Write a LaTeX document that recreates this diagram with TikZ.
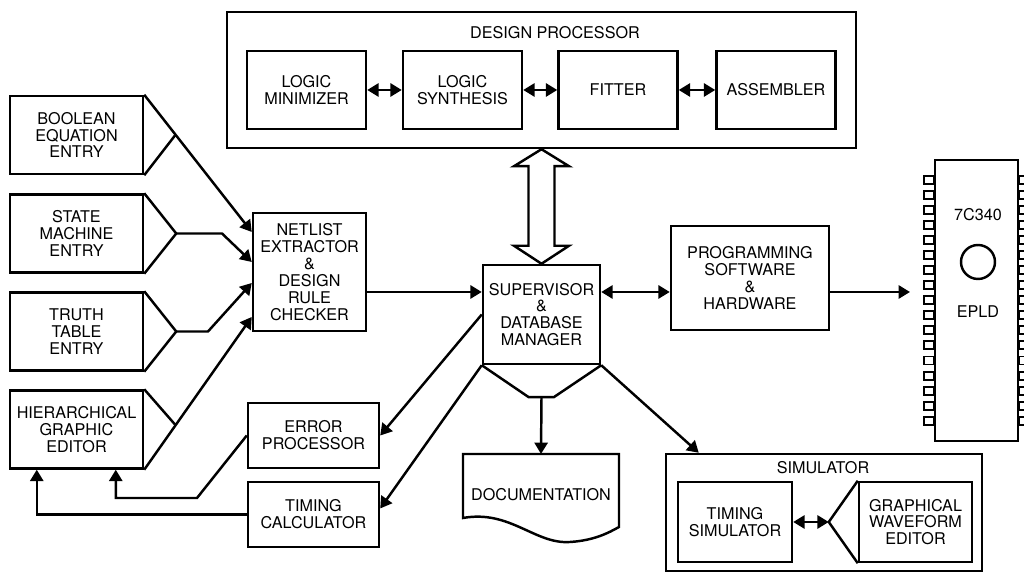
\documentclass[tikz,border=0pt]{standalone}
\usepackage{fontspec}
\setmainfont{TeX Gyre Heros}
\usetikzlibrary{arrows.meta, positioning, calc}

\begin{document}
\begin{tikzpicture}[font=\fontsize{9.2}{9.6}\selectfont,
  >={Triangle[length=6.5pt,width=7.5pt]},
  box/.style={draw, line width=1.4pt, align=center, inner sep=0pt},
  entry/.style={box, minimum width=2.66cm, minimum height=1.56cm},
  stage/.style={box, minimum width=2.38cm, minimum height=1.56cm},
  link/.style={line width=1.4pt, line join=miter},
  pin/.style={draw, line width=1.1pt}]
\useasboundingbox (0,0) rectangle (20.48,11.44);

% design processor and its stages
\node[box, minimum width=12.58cm, minimum height=2.72cm] (dp) at (10.83,9.84) {};
\node (dptitle) at (11.1,10.78) {DESIGN PROCESSOR};
\node[stage] (lmin) at (6.13,9.64) {LOGIC\\MINIMIZER};
\node[stage] (lsyn) at (9.25,9.64) {LOGIC\\SYNTHESIS};
\node[stage] (fit) at (12.36,9.64) {FITTER};
\node[stage] (asm) at (15.52,9.64) {ASSEMBLER};
\draw[link, <->] (lmin) -- (lsyn);
\draw[link, <->] (lsyn) -- (fit);
\draw[link, <->] (fit) -- (asm);

% design entry
\node[entry] (bool) at (1.53,8.74) {BOOLEAN\\EQUATION\\ENTRY};
\node[entry] (fsm) at (1.53,6.77) {STATE\\MACHINE\\ENTRY};
\node[entry] (truth) at (1.53,4.81) {TRUTH\\TABLE\\ENTRY};
\node[entry] (hier) at (1.53,2.85) {HIERARCHICAL\\GRAPHIC\\EDITOR};

\node[box, minimum width=2.26cm, minimum height=2.36cm] (net) at (6.19,6.0)
  {NETLIST\\EXTRACTOR\\\&\\DESIGN\\RULE\\CHECKER};

\coordinate (bapex) at (3.5,8.73);
\coordinate (fapex) at ($(fsm.east)+(0.64,0)$);
\coordinate (tapex) at ($(truth.east)+(0.64,0)$);
\coordinate (hapex) at (3.5,2.95);

\draw[link, ->] (bool.north east) -- (net.west |- 0,6.8);
\draw[link] (bool.south east) -- (bapex);
\draw[link] (fsm.north east) -- (fapex) -- (fsm.south east);
\draw[link, ->] (fapex) -- (4.44,6.77) -- (net.west |- 0,6.2);
\draw[link] (truth.north east) -- (tapex) -- (truth.south east);
\draw[link, ->] (tapex) -- (4.16,4.81) -- (net.west |- 0,5.78);
\draw[link, ->] (hier.south east) -- (net.west |- 0,5.1);
\draw[link] (hier.north east) -- (hapex);

% supervisor with its hopper
\node[box, minimum width=2.34cm, minimum height=1.98cm] (sup) at (10.83,5.15)
  {SUPERVISOR\\\&\\DATABASE\\MANAGER};
\draw[link] (sup.south west) -- ++(0.94,-0.64) -- ++(0.5,0) -- (sup.south east);
\coordinate (hopbot) at ($(sup.south)+(0,-0.64)$);

% wide two-way arrow to the design processor
\draw[link] (sup.north) -- ++(0.55,0.36) -- ++(-0.29,0)
  -- ($(dp.south)+(0.26,-0.34)$) -- ++(0.29,0) -- (dp.south)
  -- ++(-0.55,-0.34) -- ++(0.29,0) -- ($(sup.north)+(-0.26,0.36)$)
  -- ++(-0.29,0) -- cycle;

\node[box, minimum width=3.16cm, minimum height=2.08cm] (prog) at (15.0,5.88)
  {PROGRAMMING\\SOFTWARE\\\&\\HARDWARE};

\draw[link, ->] (net.east |- 0,5.6) -- (sup.west |- 0,5.6);
\draw[link, <->] (sup.east |- 0,5.6) -- (prog.west |- 0,5.6);

% EPLD chip
\node[box, minimum width=1.66cm, minimum height=5.62cm] (epld) at (19.53,5.43) {};
\node (chipname) at (19.56,7.14) {7C340};
\node[draw, circle, line width=1.4pt, minimum size=0.68cm, inner sep=0pt] (window) at (19.56,6.2) {};
\node (chiptype) at (19.56,5.2) {EPLD};
\foreach \i in {0,...,16} {
  \draw[pin] ($(epld.north west)+(-0.2,-0.34-0.3012*\i)$) rectangle ++(0.2,-0.16);
  \draw[pin] ($(epld.north east)+(0,-0.34-0.3012*\i)$) rectangle ++(0.2,-0.16);
}
\coordinate (chipin) at (18.2,5.6);
\draw[link, ->] (prog.east |- 0,5.6) -- (chipin);

% error and timing
\node[box, minimum width=2.62cm, minimum height=1.3cm] (err) at (6.27,2.73) {ERROR\\PROCESSOR};
\node[box, minimum width=2.62cm, minimum height=1.3cm] (tcalc) at (6.27,1.15) {TIMING\\CALCULATOR};
\draw[link, ->] (sup.west) -- (err.east);
\draw[link, ->] (sup.south west) -- ($(tcalc.east)+(0,0.12)$);
\draw[link, ->] (tcalc.west) -| ($(hier.south west)+(0.56,0)$);
\draw[link, ->] (err.west) -- (3.94,1.48) -| ($(hier.south west)+(2.14,0)$);

% documentation
\coordinate (doctop) at (10.82,2.36);
\draw[link] (9.26,1.08) -- (9.26,2.36) -- (12.38,2.36) -- (12.38,0.9)
  .. controls (12.2,0.8) and (11.9,0.63) .. (11.4,0.6)
  .. controls (10.7,0.55) and (10.2,1.25) .. (9.26,1.08) -- cycle;
\node (doc) at (10.82,1.54) {DOCUMENTATION};
\draw[link, ->] (hopbot) -- (doctop);

% simulator
\node[box, minimum width=6.32cm, minimum height=2.34cm] (sim) at (16.48,1.19) {};
\node (simtitle) at (16.46,2.08) {SIMULATOR};
\node[box, minimum width=2.28cm, minimum height=1.6cm] (tsim) at (14.7,1.0) {TIMING\\SIMULATOR};
\node[box, minimum width=2.26cm, minimum height=1.6cm] (wave) at (18.31,1.0) {GRAPHICAL\\WAVEFORM\\EDITOR};
\coordinate (wapex) at ($(wave.west)+(-0.58,0)$);
\draw[link] (wave.north west) -- (wapex) -- (wave.south west);
\draw[link, <->] (tsim.east) -- (wapex);
\draw[link, ->] (sup.south east) -- ($(sim.north west)+(0.68,0)$);
\end{tikzpicture}
\end{document}
